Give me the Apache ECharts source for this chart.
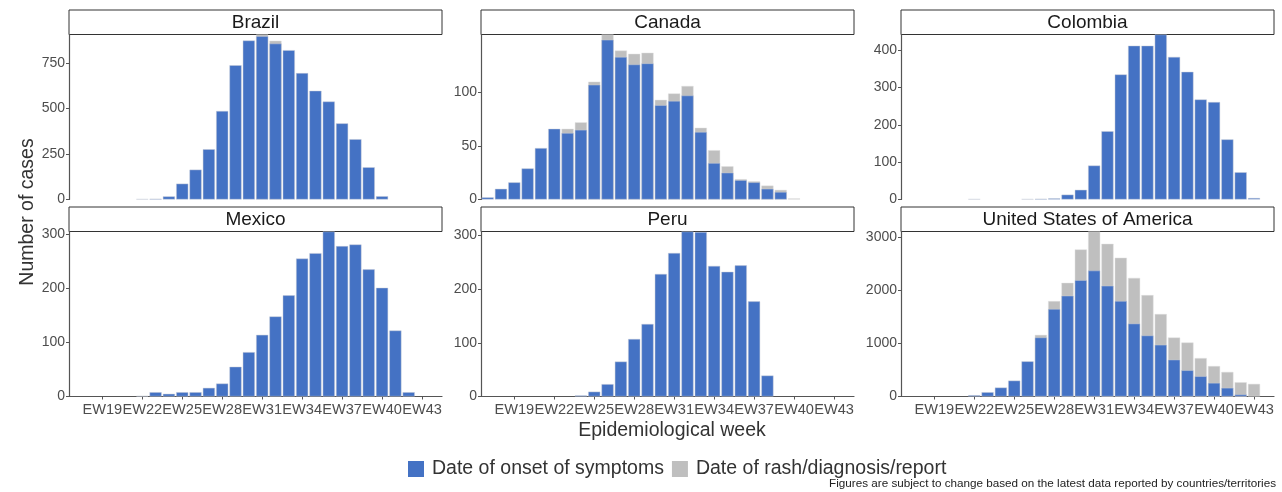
<!DOCTYPE html>
<html>
<head>
<meta charset="utf-8">
<script src="https://cdn.jsdelivr.net/npm/echarts@6/dist/echarts.min.js"></script>
<style>
  html, body { margin: 0; padding: 0; background: #ffffff; }
  #chart { width: 1282px; height: 492px; }
</style>
</head>
<body>
<div id="chart"></div>
<script>
// ---- data ----
const weeks = ['EW17','EW18','EW19','EW20','EW21','EW22','EW23','EW24','EW25','EW26','EW27','EW28','EW29','EW30',
               'EW31','EW32','EW33','EW34','EW35','EW36','EW37','EW38','EW39','EW40','EW41','EW42','EW43','EW44'];
const countries = ['Brazil', 'Canada', 'Colombia', 'Mexico', 'Peru', 'United States of America'];

const brazilOnset   = [null,null,null,null,null,2,4,17,87,164,276,486,737,873,897,856,820,694,597,538,418,331,177,18,null,null,null,null];
const brazilReport  = [null,null,null,null,null,null,null,null,null,null,null,null,null,null,906,872,null,null,null,null,null,null,null,null,null,null,null,null];
const canadaOnset   = [2,10,16,29,48,66,62,65,107,149,133,126,127,88,92,97,63,34,25,18,16,10,7,null,null,null,null,null];
const canadaReport  = [null,null,null,null,null,null,66,72,110,154,139,136,137,93,99,106,67,46,31,19,17,13,9,1,null,null,null,null];
const colombiaOnset = [null,null,null,null,null,1,null,null,null,1,2,3,13,26,91,183,335,412,412,442,382,342,268,261,161,73,4,null];
const mexicoOnset   = [null,null,null,null,null,1,8,5,8,8,16,24,55,82,114,148,187,255,265,305,278,281,235,201,122,8,null,null];
const peruOnset     = [null,null,null,null,null,null,null,2,9,23,65,107,135,228,267,307,306,243,232,244,177,39,null,null,null,null,null,null];
const usaOnset      = [null,null,null,null,null,25,81,169,300,663,1113,1650,1900,2194,2375,2088,1800,1375,1150,975,694,494,381,256,163,38,null,null];
const usaReport     = [null,null,null,null,null,null,null,null,null,null,1163,1800,2144,2775,3113,2881,2619,2238,1913,1556,1113,1019,725,575,463,269,238,null];

const brazilTicks   = [0, 250, 500, 750];
const canadaTicks   = [0, 50, 100];
const colombiaTicks = [0, 100, 200, 300, 400];
const mexicoTicks   = [0, 100, 200, 300];
const peruTicks     = [0, 100, 200, 300];
const usaTicks      = [0, 1000, 2000, 3000];

const onsetName  = 'Date of onset of symptoms';
const reportName = 'Date of rash/diagnosis/report';
const yTitle = 'Number of cases';
const xTitle = 'Epidemiological week';
const footnote = 'Figures are subject to change based on the latest data reported by countries/territories';

// ---- layout / style ----
const BLUE = '#4472C4', GRAY = '#BFBFBF';
const FONT = '"Liberation Sans", Arial, sans-serif';
const colLeft = [69, 481, 901];
const rowTop = [34.5, 231.5];
const panelW = 373, panelH = 165, stripH = 24.5;

const panels = [
  { onset: brazilOnset,   report: brazilReport, ticks: brazilTicks },
  { onset: canadaOnset,   report: canadaReport, ticks: canadaTicks },
  { onset: colombiaOnset, report: null,         ticks: colombiaTicks },
  { onset: mexicoOnset,   report: null,         ticks: mexicoTicks },
  { onset: peruOnset,     report: null,         ticks: peruTicks },
  { onset: usaOnset,      report: usaReport,    ticks: usaTicks }
];

const labelEvery = function (index) { return (index - 2) % 3 === 0 && index >= 2; };

const grid = [], xAxis = [], yAxis = [], series = [], graphic = [];
panels.forEach(function (p, i) {
  const col = i % 3, row = Math.floor(i / 3);
  const bottomRow = row === 1;
  grid.push({ left: colLeft[col], top: rowTop[row], width: panelW, height: panelH });
  xAxis.push({
    type: 'category', gridIndex: i, data: weeks, boundaryGap: true,
    axisLine: { show: bottomRow, lineStyle: { color: '#555', width: 1.2 } },
    axisTick: { show: bottomRow, alignWithLabel: true, interval: labelEvery, length: 3, lineStyle: { color: '#555' } },
    axisLabel: { show: bottomRow, interval: labelEvery, showMinLabel: true, showMaxLabel: true, hideOverlap: false,
                 fontSize: 14.6, color: '#4d4d4d', fontFamily: FONT, margin: 6 },
    splitLine: { show: false }
  });
  yAxis.push({
    type: 'value', gridIndex: i, min: 0, max: function (v) { return v.max; },
    axisLine: { show: true, lineStyle: { color: '#555', width: 1.2 } },
    axisTick: { show: true, length: 3, customValues: p.ticks, lineStyle: { color: '#555' } },
    axisLabel: { customValues: p.ticks, formatter: function (v) { return String(v); },
                 fontSize: 14, color: '#4d4d4d', fontFamily: FONT, margin: 4, padding: [0, 0, 5, 0] },
    splitLine: { show: false }
  });
  if (p.report) {
    series.push({
      name: reportName, type: 'bar', xAxisIndex: i, yAxisIndex: i, data: p.report,
      barCategoryGap: '9%', itemStyle: { color: GRAY, borderColor: 'rgba(225,225,225,0.9)', borderWidth: 0.5 },
      emphasis: { disabled: true }, animation: false
    });
  }
  series.push({
    name: onsetName, type: 'bar', xAxisIndex: i, yAxisIndex: i, data: p.onset,
    barGap: '-100%', barCategoryGap: '9%',
    itemStyle: { color: BLUE, borderColor: 'rgba(200,205,215,0.9)', borderWidth: 0.5 },
    emphasis: { disabled: true }, animation: false
  });
  // strip header
  graphic.push({
    type: 'rect', shape: { x: colLeft[col], y: rowTop[row] - stripH, width: panelW, height: stripH },
    style: { fill: '#ffffff', stroke: '#333333', lineWidth: 1 }, silent: true
  });
  graphic.push({
    type: 'text', x: colLeft[col] + panelW / 2, y: rowTop[row] - stripH / 2 + 0.5,
    style: { text: countries[i], fill: '#1a1a1a', font: '19px ' + FONT, textAlign: 'center', textVerticalAlign: 'middle' },
    silent: true
  });
});

graphic.push({
  type: 'text', x: 28, y: 212, rotation: Math.PI / 2,
  style: { text: yTitle, fill: '#333333', font: '19.5px ' + FONT, textAlign: 'center', textVerticalAlign: 'middle' }, silent: true
});
graphic.push({
  type: 'text', x: 672, y: 431,
  style: { text: xTitle, fill: '#333333', font: '19.5px ' + FONT, textAlign: 'center', textVerticalAlign: 'middle' }, silent: true
});
graphic.push({
  type: 'text', x: 1276, y: 484,
  style: { text: footnote, fill: '#222222', font: '11.7px "Liberation Sans Narrow", "Liberation Sans", sans-serif', textAlign: 'right', textVerticalAlign: 'middle' }, silent: true
});

const chart = echarts.init(document.getElementById('chart'), null, { renderer: 'canvas' });
chart.setOption({
  backgroundColor: '#ffffff',
  animation: false,
  grid: grid, xAxis: xAxis, yAxis: yAxis, series: series, graphic: graphic,
  legend: {
    data: [onsetName, reportName], left: 403, top: 454, icon: 'rect',
    itemWidth: 16, itemHeight: 16, itemGap: 8,
    itemStyle: { borderWidth: 0 },
    textStyle: { fontSize: 19.5, color: '#333333', fontFamily: FONT, padding: [0, 0, 0, 3] },
    selectedMode: false
  },
  tooltip: { show: false }
});
</script>
</body>
</html>
